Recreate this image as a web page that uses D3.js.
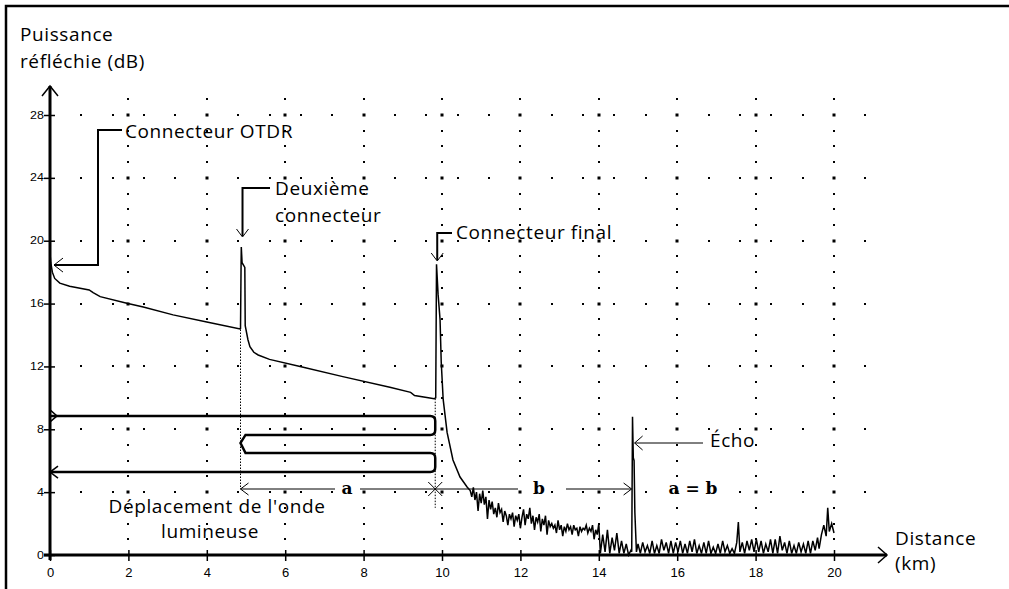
<!DOCTYPE html>
<html><head><meta charset="utf-8">
<script src="https://cdn.jsdelivr.net/npm/d3@7/dist/d3.min.js"></script>
<style>body{margin:0;background:#fff}svg{display:block}</style>
</head><body><svg id="c" width="1009" height="589"></svg>
<script>
// ---------- data ----------
const xTicks = [0, 2, 4, 6, 8, 10, 12, 14, 16, 18, 20];
const yTicks = [0, 4, 8, 12, 16, 20, 24, 28];
const gridRowDb = [4, 8, 12, 16, 20, 24, 28];
const gridColKm = [2, 4, 6, 8, 10, 12, 14, 16, 18, 20];
const rowDotKm = [0.8, 1.6, 2.4, 3.2, 4.0, 4.8, 5.6, 6.4, 7.2, 8.0, 8.8, 9.6, 10.4, 11.2, 12.0, 12.8, 13.6, 14.4, 15.2, 16.0, 16.8, 17.6, 18.4, 19.2, 20.0, 20.8];
const colDotDb = [1, 2, 3, 5, 6, 7, 9, 10, 11, 13, 14, 15, 17, 18, 19, 21, 22, 23, 25, 26, 27, 29];

const connectorKm = [0, 4.86, 9.84];
const echoKm = 14.85;

// trace [km, dB]
const traceFiber1 = [[0,19.2],[0.02,18.6],[0.06,18.0],[0.12,17.6],[0.25,17.3],[0.5,17.1],[1.0,16.87],[1.1,16.7],[1.28,16.44],[1.96,16.02],[2.38,15.78],[3.14,15.28],[4.0,14.83],[4.85,14.38]];
const traceConnector2 = [[4.86,14.4],[4.875,18.6],[4.88,19.6],[4.9,18.6],[4.97,18.3],[4.98,14.6]];
const traceFiber2 = [[5.05,13.7],[5.1,13.26],[5.2,12.9],[5.31,12.73],[5.6,12.45],[6.38,11.99],[7.47,11.35],[8.67,10.67],[9.2,10.35],[9.3,10.15],[9.69,9.99],[9.8,9.95]];
const traceConnectorEnd = [[9.84,10.0],[9.86,18.5],[9.9,16.6],[9.95,15.0],[9.98,12.3],[10.03,9.9],[10.13,7.8],[10.28,6.05],[10.46,4.96],[10.64,4.33]];
const traceNoise = [[10.72,4.1],[10.76,3.7],[10.80,4.3],[10.84,3.5],[10.88,4.0],[10.92,2.8],[10.96,3.9],[11.00,3.3],[11.04,4.1],[11.08,3.2],[11.12,3.7],[11.16,2.3],[11.20,3.5],[11.24,2.9],[11.28,3.4],[11.32,2.6],[11.36,3.0],[11.40,2.4],[11.44,3.3],[11.48,2.7],[11.52,2.9],[11.56,2.1],[11.60,2.8],[11.64,2.5],[11.68,1.9],[11.72,2.6],[11.76,2.3],[11.80,2.7],[11.84,1.8],[11.88,2.5],[11.92,2.2],[11.96,2.6],[12.00,1.7],[12.04,2.4],[12.08,2.9],[12.12,1.9],[12.16,2.6],[12.20,2.3],[12.24,3.0],[12.28,2.0],[12.32,2.5],[12.36,1.6],[12.40,2.4],[12.44,2.1],[12.48,2.6],[12.52,1.5],[12.56,2.3],[12.60,1.9],[12.64,2.5],[12.68,1.3],[12.72,2.2],[12.76,1.8],[12.80,2.0],[12.84,1.7],[12.88,1.9],[12.92,1.4],[12.96,2.2],[13.00,1.6],[13.04,1.9],[13.08,1.2],[13.12,1.8],[13.16,1.5],[13.20,2.0],[13.24,1.6],[13.28,1.8],[13.32,1.3],[13.36,1.9],[13.40,1.6],[13.44,1.7],[13.48,1.2],[13.52,1.8],[13.56,1.5],[13.60,1.7],[13.64,1.6],[13.68,1.9],[13.72,1.4],[13.76,1.7],[13.80,1.5],[13.84,1.9],[13.88,1.0],[13.92,1.6],[13.96,1.3],[14.00,2.0],[14.04,0.1],[14.10,1.3],[14.16,0.2],[14.22,1.6],[14.28,0.1],[14.34,1.1],[14.40,0.3],[14.46,1.4],[14.52,0.1],[14.58,0.9],[14.64,0.1],[14.70,0.7],[14.76,0.0],[14.82,0.3]];
const traceEcho = [[14.84,0.2],[14.86,8.8],[14.88,6.2],[14.9,6.0],[14.92,2.7],[14.96,0.2]];
const traceFloor = [[15.00,0.7],[15.06,0.1],[15.12,0.8],[15.18,0.2],[15.24,0.6],[15.30,0.1],[15.36,0.9],[15.42,0.1],[15.48,0.6],[15.54,0.1],[15.60,1.0],[15.66,0.3],[15.72,0.8],[15.78,0.1],[15.84,0.9],[15.90,0.1],[15.96,0.8],[16.02,0.2],[16.08,0.9],[16.14,0.1],[16.20,0.7],[16.26,0.1],[16.32,0.9],[16.38,0.2],[16.44,1.0],[16.50,0.1],[16.56,0.6],[16.62,0.1],[16.68,0.8],[16.74,0.1],[16.80,0.9],[16.86,0.1],[16.92,0.5],[16.98,0.1],[17.04,0.7],[17.10,0.1],[17.16,0.9],[17.22,0.2],[17.28,0.6],[17.34,0.1],[17.40,0.4],[17.46,0.1],[17.52,0.8],[17.56,2.1],[17.60,0.2],[17.66,0.8],[17.72,0.1],[17.78,0.9],[17.84,0.3],[17.90,1.0],[17.96,0.2],[18.02,1.0],[18.08,0.2],[18.14,0.9],[18.20,0.1],[18.26,0.7],[18.32,0.2],[18.38,1.0],[18.44,0.1],[18.50,1.0],[18.56,0.1],[18.62,1.2],[18.68,0.3],[18.74,0.8],[18.80,0.1],[18.86,0.9],[18.92,0.1],[18.98,0.6],[19.04,0.1],[19.10,0.8],[19.16,0.2],[19.22,0.7],[19.28,0.1],[19.34,0.9],[19.40,0.1],[19.46,0.9],[19.52,0.3],[19.58,1.1],[19.62,0.4],[19.68,1.3],[19.74,1.9],[19.80,1.2],[19.84,3.0],[19.88,1.5],[19.94,2.0],[20.00,1.4]];

// ---------- layout ----------
const svg = d3.select('#c');
const x = d3.scaleLinear().domain([0, 20]).range([50, 834]);
const y = d3.scaleLinear().domain([0, 28]).range([555, 115]);
const FONT = '"Open Sans", "Noto Sans", sans-serif';
const ink = '#000';

function label(tx, ty, text, opts = {}) {
  svg.append('text').attr('x', tx).attr('y', ty)
    .attr('text-anchor', opts.anchor || 'start')
    .attr('font-family', opts.family || FONT)
    .attr('font-size', opts.size || 19)
    .attr('letter-spacing', opts.ls != null ? opts.ls : 0.6)
    .attr('font-weight', opts.weight || 'normal')
    .attr('fill', ink).text(text);
}
function path(d, w, extra) {
  const p = svg.append('path').attr('d', d).attr('fill', 'none').attr('stroke', ink).attr('stroke-width', w);
  if (extra) extra(p);
  return p;
}

// frame (top & left)
path('M6,589 V6 H1009', 2.5);

// dotted grid
const dots = svg.append('g');
gridRowDb.forEach(db => {
  rowDotKm.forEach(km => {
    if (gridColKm.includes(km)) return;
    dots.append('rect').attr('x', Math.round(x(km)) - 1).attr('y', Math.round(y(db)) - 1).attr('width', 2).attr('height', 2).attr('fill', ink);
  });
  gridColKm.forEach(km => {
    dots.append('rect').attr('x', Math.round(x(km)) - 1.5).attr('y', Math.round(y(db)) - 1.5).attr('width', 3).attr('height', 3).attr('fill', ink);
  });
});
gridColKm.forEach(km => {
  colDotDb.forEach(db => {
    dots.append('rect').attr('x', Math.round(x(km)) - 1).attr('y', Math.round(y(db)) - 1).attr('width', 2).attr('height', 2).attr('fill', ink);
  });
});

// axes
const xAxis = d3.axisBottom(x).tickValues(xTicks).tickSize(6).tickPadding(0).tickFormat(d3.format('d'));
const gx = svg.append('g').attr('transform', `translate(0,${y(0)})`).call(xAxis);
gx.select('.domain').remove();
gx.selectAll('.tick line').attr('y1', -5).attr('y2', 6).attr('stroke', ink).attr('stroke-width', 1.5);
gx.selectAll('.tick text').attr('y', 22).attr('dy', null).attr('font-family', '"Liberation Sans", Arial, sans-serif')
  .attr('font-size', 13).attr('fill', ink).attr('transform', null);

const yAxis = d3.axisLeft(y).tickValues(yTicks).tickSize(6).tickPadding(0).tickFormat(d3.format('d'));
const gy = svg.append('g').attr('transform', `translate(${x(0)},0)`).call(yAxis);
gy.select('.domain').remove();
gy.selectAll('.tick line').attr('x1', -6).attr('x2', 5).attr('stroke', ink).attr('stroke-width', 1.5);
gy.selectAll('.tick text').attr('x', null).attr('dy', null).attr('y', 3).attr('text-anchor', 'end')
  .attr('font-family', '"Liberation Sans", Arial, sans-serif').attr('font-size', 10).attr('fill', ink)
  .attr('transform', 'translate(-6,0) scale(1.25,1)');

// thick axis lines + arrows
path(`M${x(0)},${y(0) + 5} V86`, 3);
path(`M${x(0) - 8},96 L${x(0)},86 L${x(0) + 8},96`, 1.5);
path(`M${x(0) - 6},${y(0)} H887`, 3);
path(`M878,${y(0) - 8} L887,${y(0)} L878,${y(0) + 8}`, 1.5);

// trace
const line = d3.line().x(d => x(d[0])).y(d => y(d[1]));
const trace = [].concat(traceFiber1, traceConnector2, traceFiber2, traceConnectorEnd, traceNoise, traceEcho, traceFloor);
path(line(trace), 1.5, p => p.attr('stroke-linejoin', 'miter'));

// travel brackets
const xr = x(connectorKm[2]) - 0.5, x2 = x(connectorKm[1]);
const yb1 = y(8.85), yb2 = y(7.64), ym = y(7.13), yb3 = y(6.49), yb4 = y(5.28), yab = y(4.2);
path(`M${x(0)},${yb1} H${xr - 5} Q${xr},${yb1} ${xr},${yb1 + 5} V${yb2 - 5} Q${xr},${yb2} ${xr - 5},${yb2} H${x2 + 5} L${x2},${ym} L${x2 + 5},${yb3} H${xr - 5} Q${xr},${yb3} ${xr},${yb3 + 5} V${yb4 - 5} Q${xr},${yb4} ${xr - 5},${yb4} H${x(0)}`, 2.5);
path(`M${x(0)},${yb1 - 6} L${x(0) + 7},${yb1} L${x(0)},${yb1 + 6}`, 1.5);
path(`M${x(0) + 8},${yb4 - 6} L${x(0)},${yb4} L${x(0) + 8},${yb4 + 6}`, 1.5);

// dotted connector drops
path(`M${x2},${y(14.35)} V${yab}`, 1, p => p.attr('stroke-dasharray', '1.5,1.5'));
path(`M${xr},${y(9.95)} V${y(3.0)}`, 1, p => p.attr('stroke-dasharray', '1.5,1.5'));

// a / b arrows
const xe = x(echoKm) - 0.5;
path(`M${x2},${yab} H335 M360,${yab} H${xr} H518 M566,${yab} H${xe}`, 1);
path(`M${x2 + 8},${yab - 6} L${x2},${yab} L${x2 + 8},${yab + 6}`, 1);
path(`M${xr - 7},${yab - 7} L${xr + 7},${yab + 7} M${xr - 7},${yab + 7} L${xr + 7},${yab - 7}`, 1);
path(`M${xe - 8},${yab - 6} L${xe},${yab} L${xe - 8},${yab + 6}`, 1);
const SERIF = '"DejaVu Serif", "Liberation Serif", serif';
label(347, 494, 'a', {anchor: 'middle', family: SERIF, weight: 'bold', size: 17, ls: 0});
label(539, 494, 'b', {anchor: 'middle', family: SERIF, weight: 'bold', size: 17, ls: 0});
label(693, 494, 'a = b', {anchor: 'middle', family: SERIF, weight: 'bold', size: 17, ls: 0});

// leaders
path(`M122,130 H98 V${y(18.45)} H54`, 2);
path(`M63,${y(18.45) - 7} L54,${y(18.45)} L63,${y(18.45) + 7}`, 1);
path(`M270,188 H${x2 + 2} V236`, 2);
path(`M${x2 - 4},229 L${x2 + 2},237 L${x2 + 8},229`, 1);
path(`M452,233 H${xr + 2} V260`, 2);
path(`M${xr - 4},253 L${xr + 2},261 L${xr + 8},253`, 1);
path(`M703,443 H${xe + 3}`, 1);
path(`M${xe + 11},436 L${xe + 3},443 L${xe + 11},450`, 1);

// texts
label(20, 41, 'Puissance');
label(20, 68, 'réfléchie (dB)');
label(125, 138, 'Connecteur OTDR');
label(275, 195, 'Deuxième');
label(275, 222, 'connecteur');
label(456, 239, 'Connecteur final');
label(710, 447, 'Écho');
label(217, 513, "Déplacement de l'onde", {anchor: 'middle'});
label(210, 538, 'lumineuse', {anchor: 'middle'});
label(895, 545, 'Distance');
label(895, 570, '(km)');
</script></body></html>
